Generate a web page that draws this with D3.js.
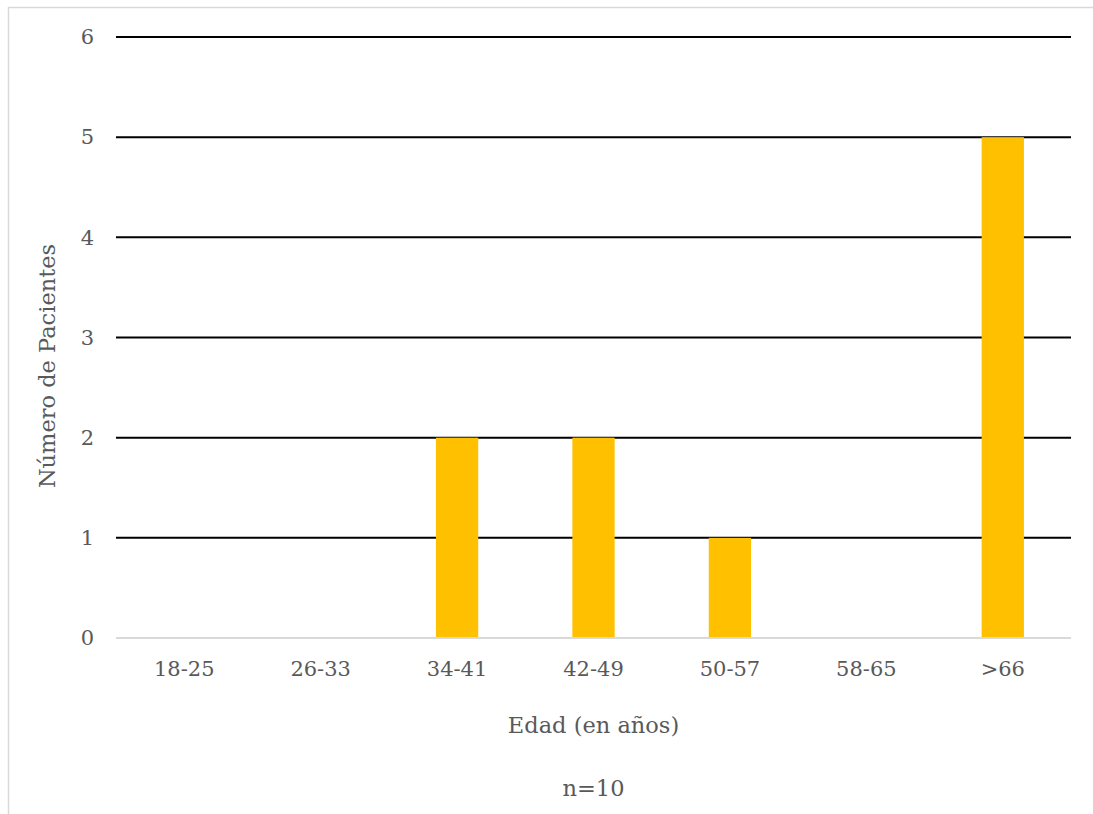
<!DOCTYPE html>
<html><head><meta charset="utf-8">
<script src="https://cdn.jsdelivr.net/npm/d3@7"></script>
<style>body{margin:0;background:#fff}svg{display:block}text{font-family:"DejaVu Serif","Liberation Serif",serif;fill:#595959}</style>
</head><body>
<script>
const categories = ["18-25","26-33","34-41","42-49","50-57","58-65",">66"];
const values = [0,0,2,2,1,0,5];
const yTicks = [0,1,2,3,4,5,6];
const xTitle = "Edad (en años)";
const yTitle = "Número de Pacientes";
const note = "n=10";

const W = 1093, H = 814;
const svg = d3.select("body").append("svg").attr("width", W).attr("height", H);
svg.append("rect").attr("x",8.5).attr("y",7.5).attr("width",W).attr("height",H).attr("fill","#fff").attr("stroke","#d9d9d9").attr("stroke-width",1.5);

const m = {left:116, right:1071, top:37, bottom:638};
const x = d3.scaleBand().domain(categories).range([m.left, m.right]).paddingInner(0.69).paddingOuter(0.345);
const y = d3.scaleLinear().domain([0,6]).range([m.bottom, m.top]);

// gridlines
svg.append("g").selectAll("line").data(yTicks.filter(d=>d>0)).join("line")
  .attr("x1", m.left).attr("x2", m.right).attr("y1", d=>y(d)).attr("y2", d=>y(d))
  .attr("stroke","#000").attr("stroke-width",2);

// bars
svg.append("g").selectAll("rect").data(values).join("rect")
  .attr("x",(d,i)=>x(categories[i])).attr("width",x.bandwidth())
  .attr("y",d=>y(d)).attr("height",d=>y(0)-y(d)).attr("fill","#ffc000");

// x axis baseline
svg.append("line").attr("x1",m.left).attr("x2",m.right).attr("y1",y(0)).attr("y2",y(0)).attr("stroke","#d9d9d9").attr("stroke-width",2);

// y tick labels
const yAxis = d3.axisLeft(y).tickValues(yTicks).tickFormat(d3.format("d")).tickSize(0).tickPadding(22);
const gy = svg.append("g").attr("transform",`translate(${m.left},0)`).call(yAxis);
gy.select(".domain").remove();
gy.selectAll("text").style("font-size","21px").style("font-family",null).attr("fill",null);

// x tick labels
const xAxis = d3.axisBottom(x).tickSize(0).tickPadding(23);
const gx = svg.append("g").attr("transform",`translate(0,${m.bottom})`).call(xAxis);
gx.select(".domain").remove();
gx.selectAll("text").style("font-size","21px").style("font-family",null).attr("fill",null);

svg.append("text").attr("x",(m.left+m.right)/2).attr("y",733).attr("text-anchor","middle").style("font-size","22.5px").text(xTitle);
svg.append("text").attr("x",(m.left+m.right)/2).attr("y",796).attr("text-anchor","middle").style("font-size","22.5px").text(note);
svg.append("text").attr("transform","translate(55,366) rotate(-90)").attr("text-anchor","middle").style("font-size","22.5px").text(yTitle);
</script>
</body></html>
